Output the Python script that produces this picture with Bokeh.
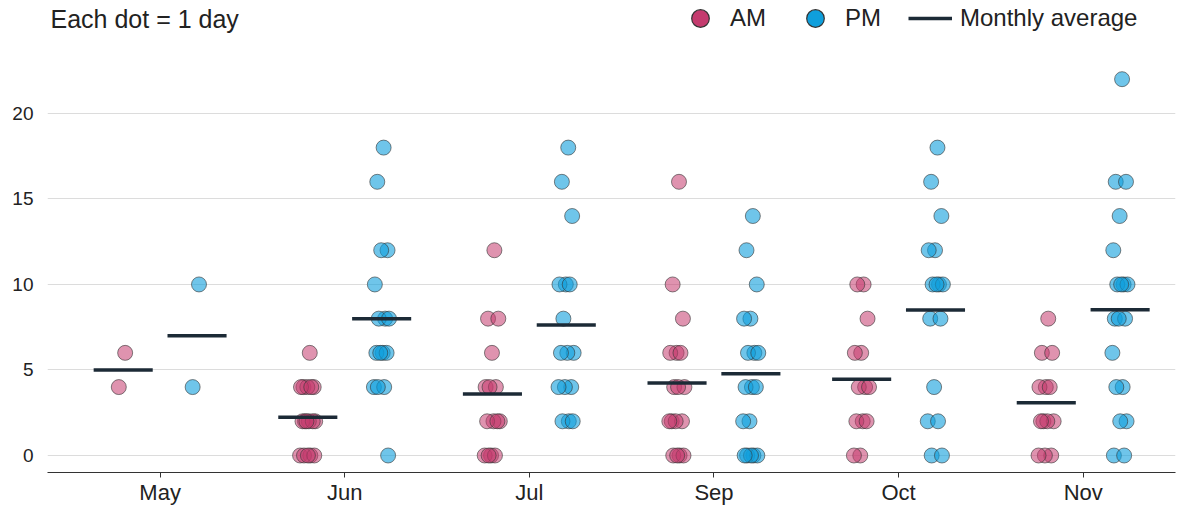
import numpy as np
from bokeh.plotting import figure
from bokeh.models import (ColumnDataSource, Legend, LegendItem, Label, Range1d,
                          FixedTicker)
from bokeh.embed import file_html
from bokeh.resources import INLINE

# ---------------- data ----------------
months = ["May", "Jun", "Jul", "Sep", "Oct", "Nov"]

am_may = [6, 4]
pm_may = [10, 4]
am_jun = [6, 4, 4, 4, 4, 4, 2, 2, 2, 2, 2, 2, 0, 0, 0, 0, 0]
pm_jun = [18, 16, 12, 12, 10, 8, 8, 8, 6, 6, 6, 6, 4, 4, 4, 0]
am_jul = [12, 8, 8, 6, 4, 4, 4, 2, 2, 2, 2, 0, 0, 0, 0]
pm_jul = [18, 16, 14, 10, 10, 10, 8, 6, 6, 6, 4, 4, 4, 2, 2, 2]
am_sep = [16, 10, 8, 6, 6, 6, 4, 4, 4, 2, 2, 2, 2, 0, 0, 0, 0]
pm_sep = [14, 12, 10, 8, 8, 6, 6, 6, 4, 4, 4, 2, 2, 0, 0, 0, 0, 0]
am_oct = [10, 10, 8, 6, 6, 4, 4, 4, 2, 2, 2, 0, 0]
pm_oct = [18, 16, 14, 12, 12, 10, 10, 10, 10, 8, 8, 4, 2, 2, 0, 0]
am_nov = [8, 6, 6, 4, 4, 4, 2, 2, 2, 2, 0, 0, 0]
pm_nov = [22, 16, 16, 14, 12, 10, 10, 10, 10, 8, 8, 8, 6, 4, 4, 2, 2, 0, 0]

y_ticks = [0, 5, 10, 15, 20]

am_groups = [am_may, am_jun, am_jul, am_sep, am_oct, am_nov]
pm_groups = [pm_may, pm_jun, pm_jul, pm_sep, pm_oct, pm_nov]

# ---------------- styling ----------------
AM_COLOR = "#c43b6e"
PM_COLOR = "#0f9fdc"
AVG_COLOR = "#1c2a36"
TEXT_COLOR = "#222222"
FONT = "Liberation Sans"
DODGE = 0.2
JITTER = 0.09
HALF = 0.16


def build(groups, offset):
    xs, ys = [], []
    x0, x1, my = [], [], []
    for i, vals in enumerate(groups):
        for k, v in enumerate(vals):
            j = (((k + 1) * 0.6180339887) % 1.0 - 0.5) * JITTER
            xs.append(i + offset + j)
            ys.append(v)
        m = float(np.mean(vals))
        x0.append(i + offset - HALF)
        x1.append(i + offset + HALF)
        my.append(m)
    dots = ColumnDataSource(dict(x=xs, y=ys))
    avgs = ColumnDataSource(dict(x0=x0, x1=x1, y=my))
    return dots, avgs


am_dots, am_avg = build(am_groups, -DODGE)
pm_dots, pm_avg = build(pm_groups, DODGE)

p = figure(width=1184, height=507, output_backend="svg", toolbar_location=None,
           x_range=Range1d(-0.61, 5.5), y_range=Range1d(-0.994, 26.6),
           min_border_left=47, min_border_right=9, min_border_top=0,
           min_border_bottom=0)
p.outline_line_color = None
p.background_fill_color = "white"

p.scatter("x", "y", source=am_dots, size=15, fill_color=AM_COLOR, fill_alpha=0.55,
          line_color="#333333", line_alpha=0.6, line_width=1)
p.scatter("x", "y", source=pm_dots, size=15, fill_color=PM_COLOR, fill_alpha=0.6,
          line_color="#333333", line_alpha=0.6, line_width=1)

seg_am = p.segment(x0="x0", y0="y", x1="x1", y1="y", source=am_avg,
                   line_color=AVG_COLOR, line_width=3.5)
seg_pm = p.segment(x0="x0", y0="y", x1="x1", y1="y", source=pm_avg,
                   line_color=AVG_COLOR, line_width=3.5)

# legend proxies (full-opacity markers, not drawn in the plot: NaN position)
proxy = ColumnDataSource(dict(x=np.array([np.nan]), y=np.array([np.nan])))
leg_am = p.scatter("x", "y", source=proxy, size=15, fill_color=AM_COLOR,
                   line_color="#333333", line_width=1.2)
leg_pm = p.scatter("x", "y", source=proxy, size=15, fill_color=PM_COLOR,
                   line_color="#333333", line_width=1.2)

# axes
p.xaxis.ticker = FixedTicker(ticks=list(range(len(months))))
p.xaxis.major_label_overrides = {i: m for i, m in enumerate(months)}
p.xaxis.axis_line_color = "#333333"
p.xaxis.axis_line_width = 1.2
p.xaxis.major_tick_line_color = "#333333"
p.xaxis.major_tick_out = 5
p.xaxis.major_tick_in = 0
p.xaxis.minor_tick_line_color = None
p.xaxis.major_label_text_font = FONT
p.xaxis.major_label_text_font_size = "22px"
p.xaxis.major_label_text_color = TEXT_COLOR
p.xaxis.major_label_standoff = 2

p.yaxis.ticker = FixedTicker(ticks=y_ticks)
p.yaxis.axis_line_color = None
p.yaxis.major_tick_line_color = None
p.yaxis.minor_tick_line_color = None
p.yaxis.major_label_text_font = FONT
p.yaxis.major_label_text_font_size = "19px"
p.yaxis.major_label_text_color = TEXT_COLOR
p.yaxis.major_label_standoff = 8

p.xgrid.grid_line_color = None
p.ygrid.grid_line_color = "#dcdcdc"
p.ygrid.grid_line_width = 1

title = Label(x=3, y=25.5, x_units="screen", y_units="data",
              text="Each dot = 1 day", text_font=FONT, text_font_size="25px",
              text_color=TEXT_COLOR, text_baseline="middle", text_align="left")
p.add_layout(title)

legend = Legend(items=[LegendItem(label="AM", renderers=[leg_am]),
                       LegendItem(label="PM", renderers=[leg_pm]),
                       LegendItem(label="Monthly average", renderers=[seg_am])],
                orientation="horizontal", location=(631, 432),
                glyph_width=44, glyph_height=44, label_standoff=8, spacing=27,
                padding=0, margin=0, border_line_color=None,
                background_fill_alpha=0, label_text_font=FONT,
                label_text_font_size="24px", label_text_color=TEXT_COLOR)
p.add_layout(legend)

open("out.html", "w").write(file_html(p, INLINE))
